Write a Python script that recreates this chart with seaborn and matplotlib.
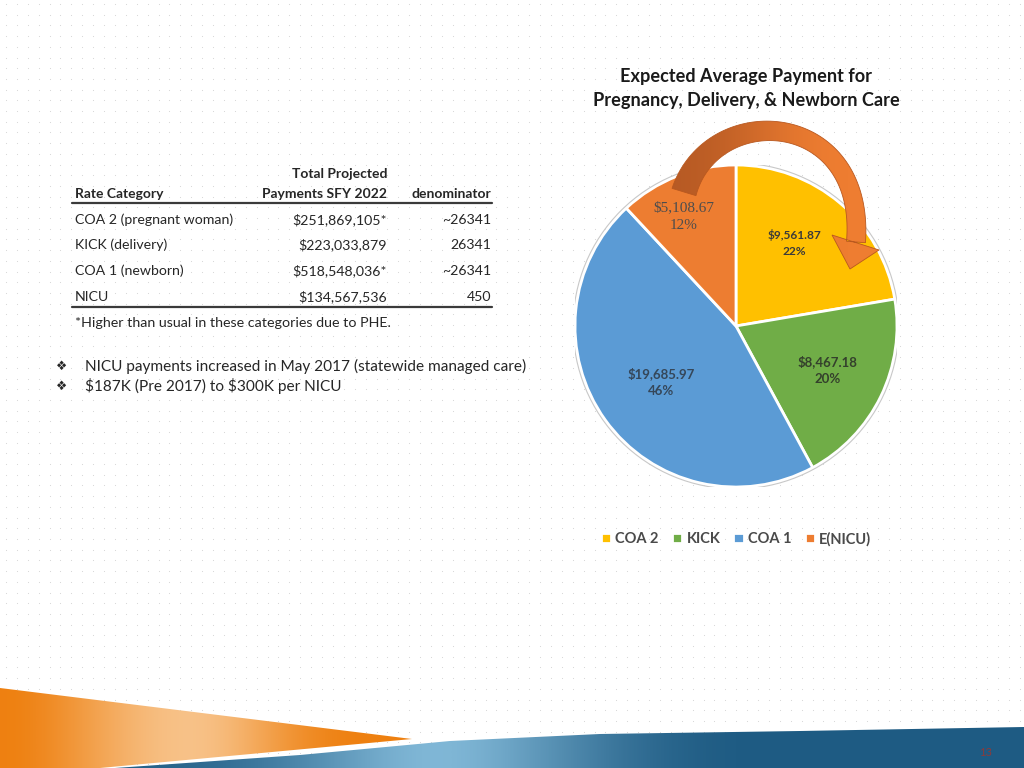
import matplotlib.pyplot as plt
import seaborn as sns
import numpy as np
from matplotlib.patches import Polygon, Circle, PathPatch
from matplotlib.path import Path

# pie data
categories = ['COA 2', 'KICK', 'COA 1', 'E(NICU)']
avg_payment = [9561.87, 8467.18, 19685.97, 5108.67]
slice_colors = ['#FFC000', '#70AD47', '#5B9BD5', '#ED7D31']

# table data
rate_category = ['COA 2 (pregnant woman)', 'KICK (delivery)', 'COA 1 (newborn)', 'NICU']
total_payments = ['$251,869,105*', '$223,033,879', '$518,548,036*', '$134,567,536']
denominators = ['~26341', '26341', '~26341', '450']
footnote = '*Higher than usual in these categories due to PHE.'
bullets = ['NICU payments increased in May 2017 (statewide managed care)',
           '$187K (Pre 2017) to $300K per NICU']

sns.set_theme(style='white')
plt.rcParams['font.family'] = ['Lato', 'DejaVu Sans']

fig = plt.figure(figsize=(10.24, 7.68), dpi=100)
fig.patch.set_facecolor('white')

# background layer in pixel coords
bg = fig.add_axes([0, 0, 1, 1])
bg.set_xlim(0, 1024)
bg.set_ylim(768, 0)
bg.axis('off')

# faint dot grid
gx, gy = np.meshgrid(np.arange(6, 1024, 10.9), np.arange(4, 768, 10.7))
bg.scatter(gx.ravel(), gy.ravel(), s=0.6, color='#d4d4d4', linewidths=0, zorder=0)

# bottom stripes
blue_poly = Polygon([(115, 768), (300, 755), (450, 741), (600, 734), (800, 731), (1024, 727), (1024, 768)],
                    closed=True, facecolor='none', edgecolor='none', zorder=2)
bg.add_patch(blue_poly)
blue_grad = np.array([[0.05, 0.2, 0.5, 0.85, 0.55, 0.2, 0.0, 0.0, 0.0, 0.0]])
im = bg.imshow(blue_grad, extent=(115, 1024, 768, 727), aspect='auto', zorder=2,
               cmap=sns.blend_palette(['#1E5B83', '#8EC4E2'], as_cmap=True),
               interpolation='bicubic')
im.set_clip_path(blue_poly)

orange_poly = Polygon([(0, 688), (412, 739), (100, 768), (0, 768)], closed=True,
                      facecolor='none', edgecolor='none', zorder=3)
bg.add_patch(orange_poly)
orange_grad = np.array([[0.0, 0.25, 0.55, 0.8, 0.85, 0.55, 0.2, 0.0, 0.0]])
im2 = bg.imshow(orange_grad, extent=(0, 412, 768, 688), aspect='auto', zorder=3,
                cmap=sns.blend_palette(['#EE8010', '#F8C48C'], as_cmap=True),
                interpolation='bicubic')
im2.set_clip_path(orange_poly)
bg.set_xlim(0, 1024)
bg.set_ylim(768, 0)
bg.text(985, 752, '13', color='#8a3b3b', fontsize=8, ha='center', va='center', zorder=5)

# table
txt = '#262626'
bg.text(387, 174, 'Total Projected', ha='right', va='center', fontsize=10, weight='bold', color=txt)
bg.text(75, 194, 'Rate Category', ha='left', va='center', fontsize=10, weight='bold', color=txt)
bg.text(387, 194, 'Payments SFY 2022', ha='right', va='center', fontsize=10, weight='bold', color=txt)
bg.text(491, 194, 'denominator', ha='right', va='center', fontsize=10, weight='bold', color=txt)
bg.plot([72, 492], [203, 203], color='#3a3a3a', lw=1.6)
row_y = [220, 245, 271, 297]
for y, cat, tot, den in zip(row_y, rate_category, total_payments, denominators):
    bg.text(75, y, cat, ha='left', va='center', fontsize=10.2, color=txt, parse_math=False)
    bg.text(387, y, tot, ha='right', va='center', fontsize=10.2, color=txt, parse_math=False)
    bg.text(491, y, den, ha='right', va='center', fontsize=10.2, color=txt, parse_math=False)
bg.plot([72, 492], [307, 307], color='#3a3a3a', lw=1.6)
bg.text(75, 323, footnote, ha='left', va='center', fontsize=10.3, color=txt)

for y, b in zip([366, 386], bullets):
    bg.text(62, y, '\u2756', ha='center', va='center', fontsize=9, color=txt,
            family=['DejaVu Sans'])
    bg.text(85, y, b, ha='left', va='center', fontsize=11.1, color=txt, parse_math=False)

# title
fig.text(746 / 1024, 1 - 88.5 / 768, 'Expected Average Payment for\nPregnancy, Delivery, & Newborn Care',
         ha='center', va='center', fontsize=13.1, weight='bold', color='#1a1a1a', linespacing=1.45)

# pie
cx, cy, r = 736, 326, 161
ax = fig.add_axes([(cx - r) / 1024, (768 - cy - r) / 768, 2 * r / 1024, 2 * r / 768])
wedges, _ = ax.pie(avg_payment, colors=sns.color_palette(slice_colors), startangle=90,
                   counterclock=False, wedgeprops=dict(edgecolor='white', linewidth=2))
ax.add_patch(Circle((0, 0), 1.012, facecolor='none', edgecolor='#c8c8c8', lw=0.8))
ax.set_xlim(-1, 1)
ax.set_ylim(-1, 1)
ax.axis('off')

vals = np.array(avg_payment)
pcts = vals / vals.sum() * 100
label_r = [0.63, 0.63, 0.58, 0.75]
label_shift = [5, 0, 1, 4]
label_style = [dict(fontsize=8.6, weight='bold', color='#3a3a3a'),
               dict(fontsize=9.5, weight='bold', color='#34402c'),
               dict(fontsize=9.5, weight='bold', color='#35475a'),
               dict(fontsize=11, color='#4d4d4d', family=['Liberation Serif'])]
for w, v, p, lr, sh, st in zip(wedges, vals, pcts, label_r, label_shift, label_style):
    ang = np.deg2rad((w.theta1 + w.theta2) / 2 + sh)
    ax.text(lr * np.cos(ang), lr * np.sin(ang), f'${v:,.2f}\n{p:.0f}%', ha='center', va='center',
            linespacing=1.5, parse_math=False, **st)

fig.legend(wedges, categories, loc='center', bbox_to_anchor=(736 / 1024, 1 - 539 / 768), ncol=4,
           frameon=False, handlelength=0.7, handleheight=0.7, handletextpad=0.3,
           columnspacing=0.9, prop=dict(size=10.5, weight='bold'), labelcolor='#4a4a4a')

# curved arrow over the pie (shaft along a cubic curve + triangular head)
top = fig.add_axes([0, 0, 1, 1])
top.set_xlim(0, 1024)
top.set_ylim(768, 0)
top.axis('off')
top.patch.set_alpha(0)
P = np.array([(684, 192), (712, 100), (866, 108), (856, 242)], dtype=float)
t = np.linspace(0, 1, 80)[:, None]
curve = ((1 - t) ** 3) * P[0] + 3 * ((1 - t) ** 2) * t * P[1] + 3 * (1 - t) * t ** 2 * P[2] + t ** 3 * P[3]
deriv = 3 * ((1 - t) ** 2) * (P[1] - P[0]) + 6 * (1 - t) * t * (P[2] - P[1]) + 3 * t ** 2 * (P[3] - P[2])
normal = np.column_stack([-deriv[:, 1], deriv[:, 0]]) / np.linalg.norm(deriv, axis=1)[:, None]
hw = (12.5 - 9 * t + 6 * t ** 2)
left_edge = curve + normal * hw
right_edge = curve - normal * hw
shaft = np.vstack([left_edge, right_edge[::-1], left_edge[:1]])
head = np.array([(832, 235), (879, 250), (850, 269), (832, 235)])
verts = np.vstack([shaft, head])
codes = ([Path.MOVETO] + [Path.LINETO] * (len(shaft) - 2) + [Path.CLOSEPOLY]
         + [Path.MOVETO, Path.LINETO, Path.LINETO, Path.CLOSEPOLY])
arrow = PathPatch(Path(verts, codes), facecolor='none', edgecolor='#B9581F', lw=0.6, zorder=3)
top.add_patch(arrow)
arrow_grad = np.array([[0.0, 0.15, 0.45, 0.8, 1.0, 1.0]])
im3 = top.imshow(arrow_grad, extent=(660, 885, 280, 90), aspect='auto', zorder=2,
                 cmap=sns.blend_palette(['#B75A24', '#EE7D31'], as_cmap=True), interpolation='bicubic')
im3.set_clip_path(arrow)
top.set_xlim(0, 1024)
top.set_ylim(768, 0)

fig.savefig('out.png', dpi=100)
